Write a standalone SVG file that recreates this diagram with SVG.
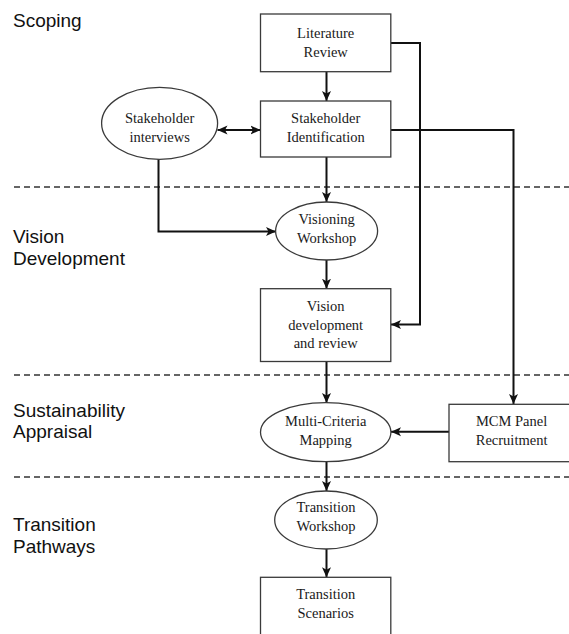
<svg xmlns="http://www.w3.org/2000/svg" width="569" height="634" viewBox="0 0 569 634">
  <style>
    .box { fill: #ffffff; stroke: #3a3a3a; stroke-width: 1.3; }
    .oval { fill: #ffffff; stroke: #3a3a3a; stroke-width: 1.3; }
    .lbl { font-family: "Liberation Serif", "Times New Roman", serif; font-size: 14.5px; fill: #1a1a1a; text-anchor: middle; }
    .phase { font-family: "Liberation Sans", Arial, sans-serif; font-size: 19px; fill: #111111; }
    .sep { stroke: #333333; stroke-width: 1.3; stroke-dasharray: 6 4; fill: none; }
    .conn { stroke: #111111; stroke-width: 2; fill: none; marker-end: url(#arrow); }
  </style>
  <defs>
    <marker id="arrow" markerUnits="userSpaceOnUse" markerWidth="10" markerHeight="10" viewBox="0 0 10 10" refX="10" refY="5" orient="auto-start-reverse">
      <path d="M0,0.5 L10,5 L0,9.5 L2.5,5 z" fill="#111111"/>
    </marker>
  </defs>
  <rect width="569" height="634" fill="#ffffff"/>

  <!-- phase separators -->
  <g id="separators">
    <line class="sep" x1="14" y1="187" x2="569" y2="187"/>
    <line class="sep" x1="14" y1="375" x2="569" y2="375"/>
    <line class="sep" x1="14" y1="477" x2="569" y2="477"/>
  </g>

  <!-- phase labels -->
  <g id="phases">
    <text class="phase" x="13" y="27">Scoping</text>
    <text class="phase" x="13" y="243">Vision</text>
    <text class="phase" x="13" y="265">Development</text>
    <text class="phase" x="13" y="417">Sustainability</text>
    <text class="phase" x="13" y="438">Appraisal</text>
    <text class="phase" x="13" y="531">Transition</text>
    <text class="phase" x="13" y="553">Pathways</text>
  </g>

  <!-- connectors -->
  <g id="connectors">
    <line class="conn" x1="326.5" y1="72" x2="326.5" y2="101"/>
    <line class="conn" x1="217.5" y1="130" x2="260.5" y2="130" marker-start="url(#arrow)"/>
    <path class="conn" d="M391,43 H420 V324.5 H391"/>
    <path class="conn" d="M391,130 H513.5 V404"/>
    <line class="conn" x1="326.5" y1="157" x2="326.5" y2="202"/>
    <path class="conn" d="M158.5,159 V231.5 H276"/>
    <line class="conn" x1="326.5" y1="260" x2="326.5" y2="288.7"/>
    <line class="conn" x1="326.5" y1="361.5" x2="326.5" y2="403"/>
    <line class="conn" x1="449" y1="431.7" x2="391" y2="431.7"/>
    <line class="conn" x1="326.5" y1="461.7" x2="326.5" y2="491"/>
    <line class="conn" x1="326.5" y1="549" x2="326.5" y2="577.3"/>
  </g>

  <g id="literature-review">
    <rect class="box" x="260.5" y="14" width="130.3" height="57.7"/>
    <text class="lbl" x="325.7" y="38">Literature</text>
    <text class="lbl" x="325.7" y="57">Review</text>
  </g>

  <g id="stakeholder-identification">
    <rect class="box" x="260.5" y="101" width="130.3" height="56"/>
    <text class="lbl" x="325.7" y="123">Stakeholder</text>
    <text class="lbl" x="325.7" y="142">Identification</text>
  </g>

  <g id="stakeholder-interviews">
    <ellipse class="oval" cx="159.6" cy="123.3" rx="58" ry="36"/>
    <text class="lbl" x="159.6" y="123">Stakeholder</text>
    <text class="lbl" x="159.6" y="142">interviews</text>
  </g>

  <g id="visioning-workshop">
    <ellipse class="oval" cx="326.6" cy="231" rx="51" ry="29"/>
    <text class="lbl" x="326.6" y="224">Visioning</text>
    <text class="lbl" x="326.6" y="243">Workshop</text>
  </g>

  <g id="vision-development">
    <rect class="box" x="260.5" y="288.7" width="130.3" height="72.8"/>
    <text class="lbl" x="325.7" y="311">Vision</text>
    <text class="lbl" x="325.7" y="330">development</text>
    <text class="lbl" x="325.7" y="348">and review</text>
  </g>

  <g id="multi-criteria-mapping">
    <ellipse class="oval" cx="325.7" cy="432.2" rx="65.2" ry="29.5"/>
    <text class="lbl" x="325.7" y="426">Multi-Criteria</text>
    <text class="lbl" x="325.7" y="445">Mapping</text>
  </g>

  <g id="mcm-panel-recruitment">
    <rect class="box" x="449" y="404.3" width="130" height="57.4"/>
    <text class="lbl" x="511.6" y="426">MCM Panel</text>
    <text class="lbl" x="511.6" y="445">Recruitment</text>
  </g>

  <g id="transition-workshop">
    <ellipse class="oval" cx="326" cy="520" rx="51.3" ry="29"/>
    <text class="lbl" x="326" y="512">Transition</text>
    <text class="lbl" x="326" y="531">Workshop</text>
  </g>

  <g id="transition-scenarios">
    <rect class="box" x="260.5" y="577.3" width="130.3" height="70"/>
    <text class="lbl" x="325.7" y="599">Transition</text>
    <text class="lbl" x="325.7" y="618">Scenarios</text>
  </g>
</svg>
